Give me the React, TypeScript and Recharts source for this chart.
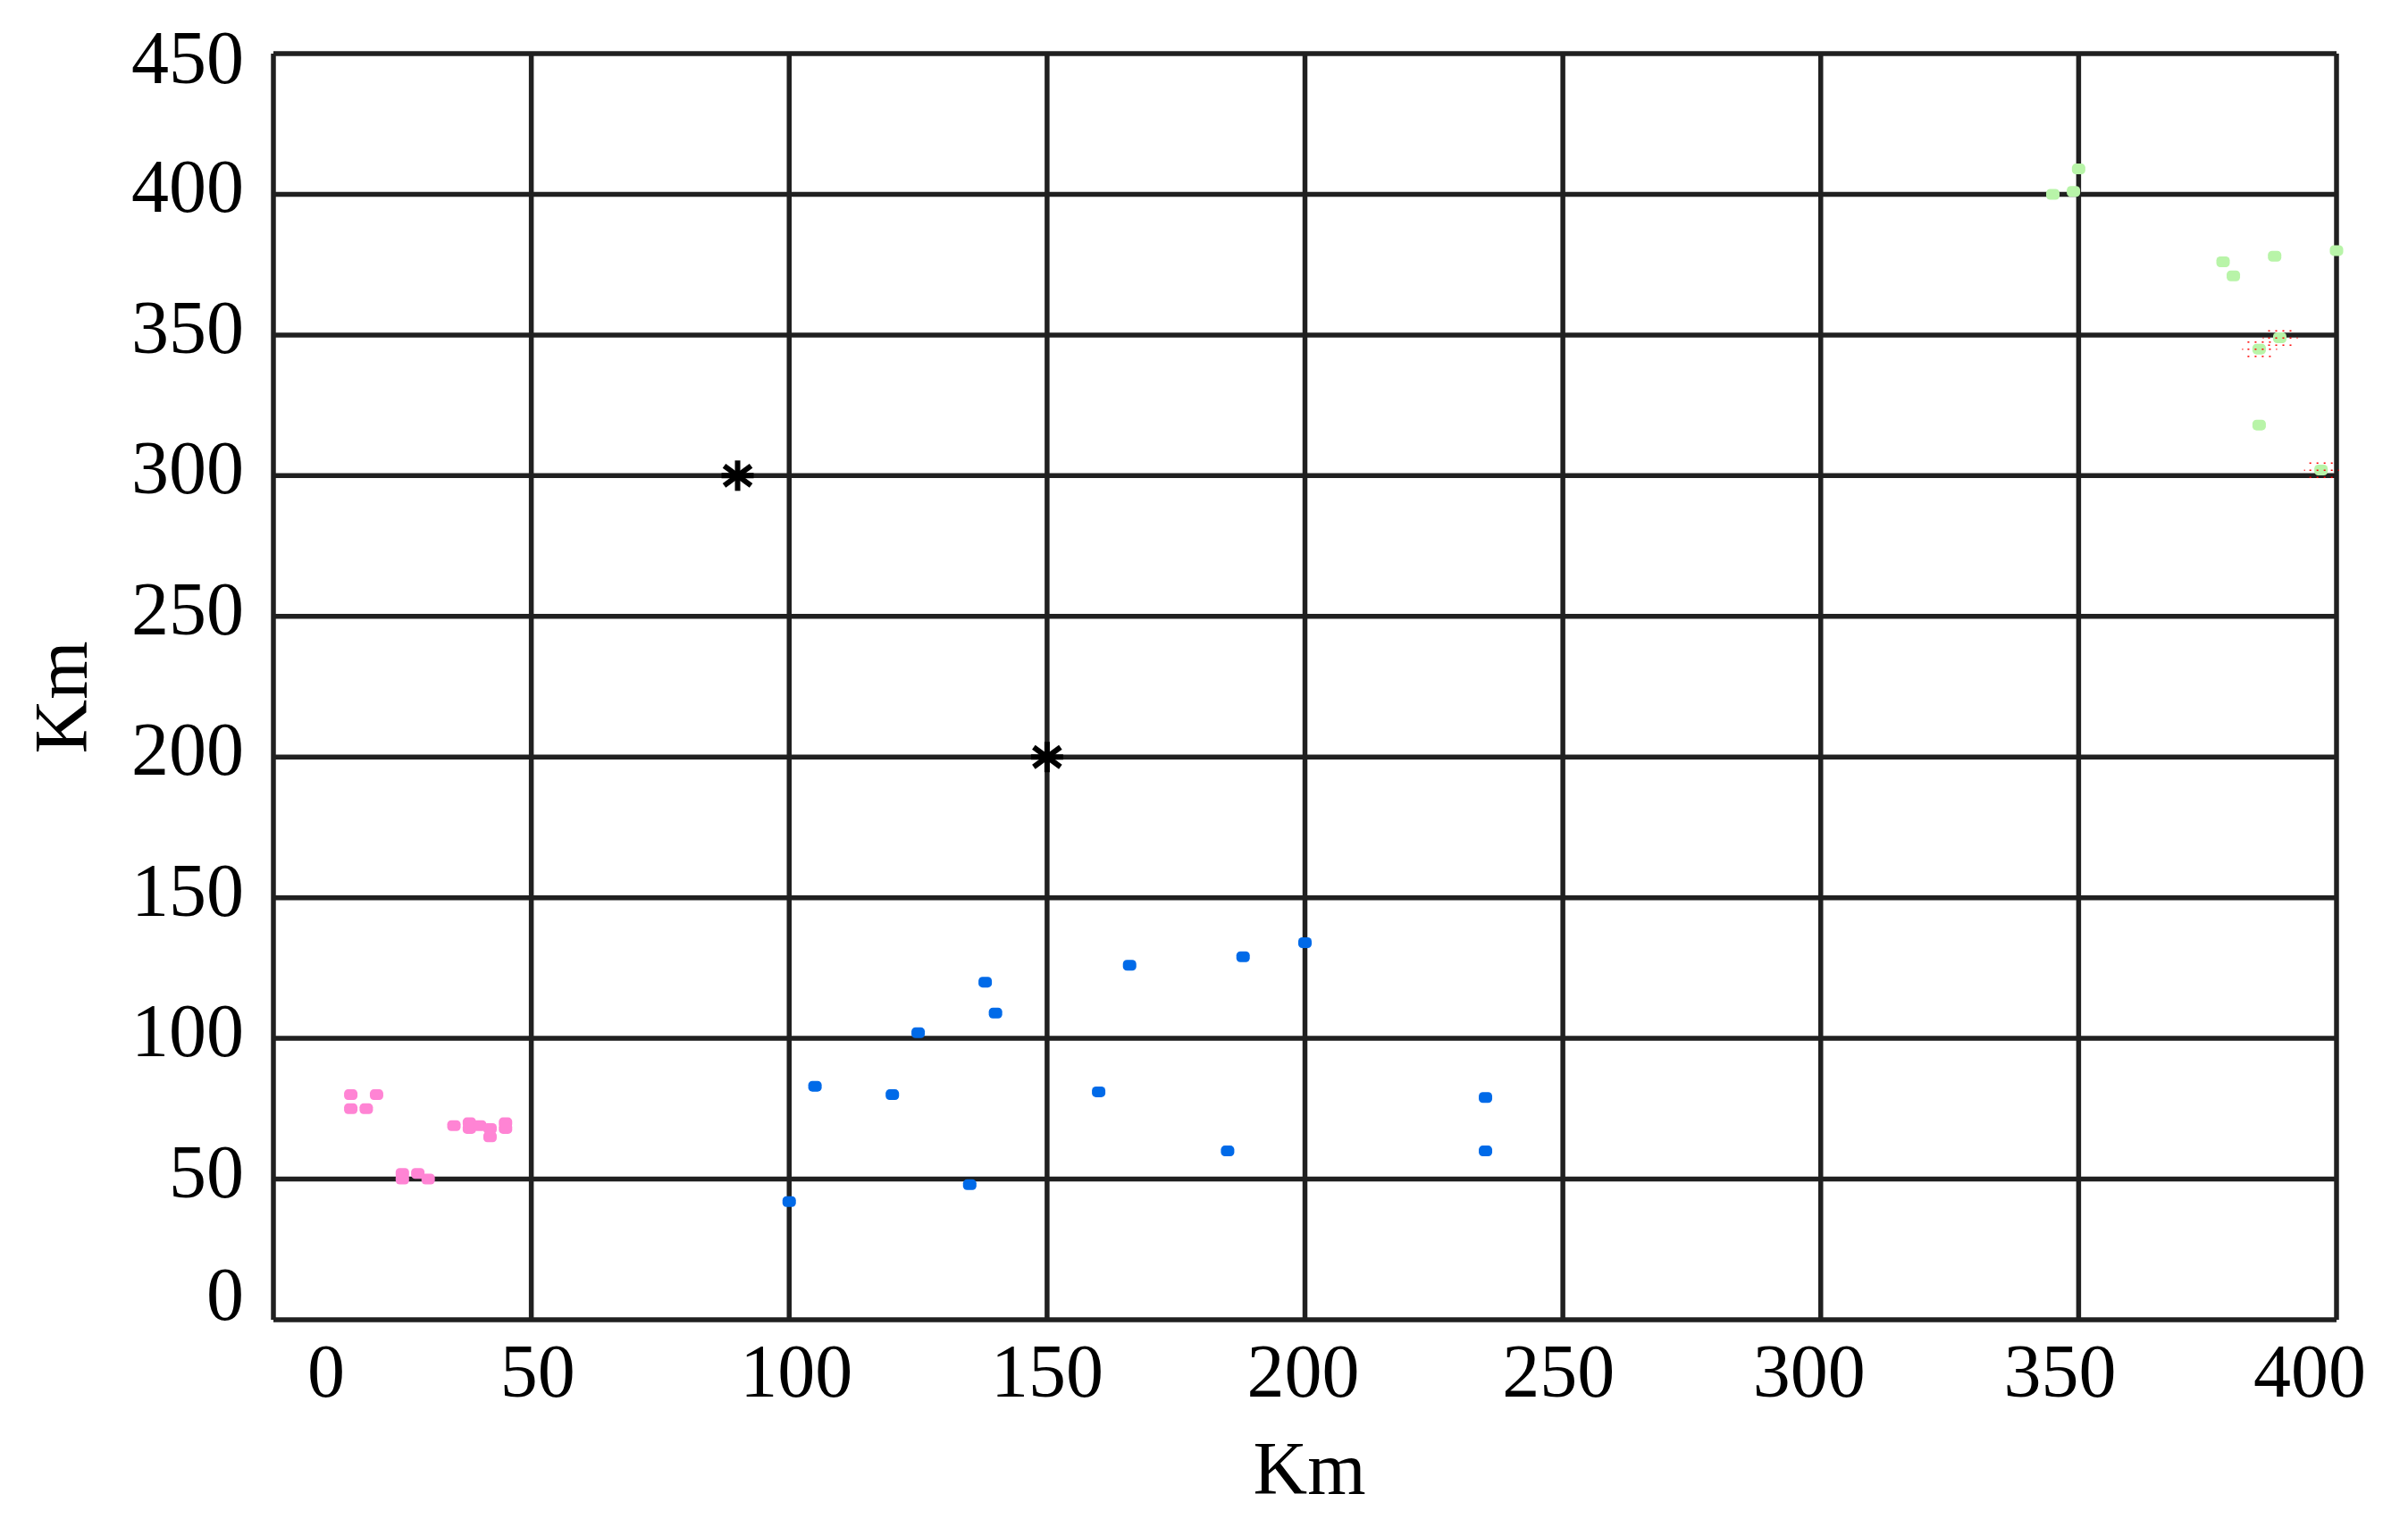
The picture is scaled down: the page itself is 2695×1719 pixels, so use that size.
import React from 'react';
import { ScatterChart, Scatter, XAxis, YAxis, CartesianGrid } from 'recharts';

const xTicks = [0, 50, 100, 150, 200, 250, 300, 350, 400];
const yTicks = [0, 50, 100, 150, 200, 250, 300, 350, 400, 450];

const pinkPoints = [
  { x: 15, y: 80 }, { x: 20, y: 80 }, { x: 15, y: 75 }, { x: 18, y: 75 },
  { x: 35, y: 69 }, { x: 38, y: 70 }, { x: 38, y: 68 }, { x: 40, y: 69 },
  { x: 42, y: 68 }, { x: 42, y: 65 }, { x: 45, y: 70 }, { x: 45, y: 68 },
  { x: 25, y: 52 }, { x: 25, y: 50 }, { x: 28, y: 52 }, { x: 30, y: 50 },
];

const bluePoints = [
  { x: 100, y: 42 }, { x: 105, y: 83 }, { x: 120, y: 80 }, { x: 125, y: 102 },
  { x: 135, y: 48 }, { x: 138, y: 120 }, { x: 140, y: 109 }, { x: 160, y: 81 },
  { x: 166, y: 126 }, { x: 185, y: 60 }, { x: 188, y: 129 }, { x: 200, y: 134 },
  { x: 235, y: 79 }, { x: 235, y: 60 },
];

const greenPoints = [
  { x: 350, y: 409 }, { x: 345, y: 400 }, { x: 349, y: 401 }, { x: 378, y: 376 },
  { x: 380, y: 371 }, { x: 388, y: 378 }, { x: 400, y: 380 }, { x: 389, y: 349 },
  { x: 385, y: 345 }, { x: 385, y: 318 }, { x: 397, y: 302 },
];

const markedPoints = [
  { x: 389, y: 349 }, { x: 385, y: 345 }, { x: 397, y: 302 },
];

const starPoints = [
  { x: 90, y: 300 }, { x: 150, y: 200 },
];

const FONT = '"Liberation Serif", "Times New Roman", Times, serif';
const xLabelShift: Record<number, number> = { 0: 59, 50: 7, 100: 8, 150: 0, 200: -2, 250: -5, 300: -13, 350: -21, 400: -30 };
const yLabelShift: Record<number, number> = { 0: 0, 450: 33 };

const XTick = (props: any) => {
  const { x, y, payload } = props;
  const off = xLabelShift[payload.value] ?? 0;
  return (
    <text x={x + off} y={y + 86} textAnchor="middle" fontSize={84} fontFamily={FONT} fill="#000">
      {payload.value}
    </text>
  );
};

const YTick = (props: any) => {
  const { x, y, payload } = props;
  const dy = yLabelShift[payload.value] ?? 20;
  return (
    <text x={x - 33} y={y + dy} textAnchor="end" fontSize={84} fontFamily={FONT} fill="#000">
      {payload.value}
    </text>
  );
};

const roundMarker = (color: string) => (props: any) => {
  const { cx, cy } = props;
  if (cx == null || cy == null) return <g />;
  return <rect x={cx - 7.5} y={cy - 6} width={15} height={12} rx={4.5} ry={4.5} fill={color} />;
};

const asterisk = (props: any) => {
  const { cx, cy } = props;
  if (cx == null || cy == null) return <g />;
  const s = { stroke: '#000', strokeWidth: 6 };
  return (
    <g>
      <line x1={cx} y1={cy - 17} x2={cx} y2={cy + 17} {...s} />
      <line x1={cx - 18} y1={cy} x2={cx + 18} y2={cy} {...s} />
      <line x1={cx - 15} y1={cy - 11} x2={cx + 15} y2={cy + 11} {...s} />
      <line x1={cx - 15} y1={cy + 11} x2={cx + 15} y2={cy - 11} {...s} />
    </g>
  );
};

const markDots = (props: any) => {
  const { cx, cy } = props;
  if (cx == null || cy == null) return <g />;
  const dots: any[] = [];
  const cols = [-12, -4, 4, 12];
  const rows = [-8, 0, 8];
  rows.forEach((dy) => {
    cols.forEach((dx) => {
      dots.push(<rect key={`${dx}_${dy}`} x={cx + dx - 1} y={cy + dy - 0.5} width={2} height={1.5} fill="#ff0000" />);
    });
  });
  dots.push(<rect key="l" x={cx - 19} y={cy - 0.5} width={1} height={1.5} fill="#ff0000" />);
  dots.push(<rect key="r" x={cx + 19} y={cy - 0.5} width={1} height={1.5} fill="#ff0000" />);
  return <g>{dots}</g>;
};

const XTitle = (props: any) => {
  const { viewBox } = props;
  return (
    <text x={viewBox.x + viewBox.width / 2 + 5} y={viewBox.y + 195} textAnchor="middle" fontSize={84} fontFamily={FONT} fill="#000">
      Km
    </text>
  );
};

const YTitle = (props: any) => {
  const { viewBox } = props;
  const cy = viewBox.y + viewBox.height / 2 + 12;
  const cx = 89;
  return (
    <text x={cx} y={cy} transform={`rotate(-90 ${cx} ${cy})`} textAnchor="middle" fontSize={84} fontFamily={FONT} fill="#000">
      Km
    </text>
  );
};

export default function App() {
  return (
    <div style={{ width: 2680, height: 1700, background: '#fff' }}>
      <ScatterChart width={2680} height={1700} margin={{ top: 52, right: 73, left: 0, bottom: 0 }}>
        <CartesianGrid stroke="#202020" strokeWidth={5.5} />
        <XAxis
          type="number"
          dataKey="x"
          domain={[0, 400]}
          ticks={xTicks}
          interval={0}
          height={231}
          tickSize={0}
          tickMargin={0}
          axisLine={false}
          tickLine={false}
          tick={<XTick />}
          label={<XTitle />}
        />
        <YAxis
          type="number"
          dataKey="y"
          domain={[0, 450]}
          ticks={yTicks}
          interval={0}
          width={298}
          tickSize={0}
          tickMargin={0}
          axisLine={false}
          tickLine={false}
          tick={<YTick />}
          label={<YTitle />}
        />
        <Scatter data={pinkPoints} fill="#ff84d4" shape={roundMarker('#ff84d4')} isAnimationActive={false} />
        <Scatter data={bluePoints} fill="#006ae8" shape={roundMarker('#006ae8')} isAnimationActive={false} />
        <Scatter data={greenPoints} fill="#b8f4a8" shape={roundMarker('#b8f4a8')} isAnimationActive={false} />
        <Scatter data={markedPoints} fill="#ff0000" shape={markDots} isAnimationActive={false} />
        <Scatter data={starPoints} fill="#000" shape={asterisk} isAnimationActive={false} />
      </ScatterChart>
    </div>
  );
}
